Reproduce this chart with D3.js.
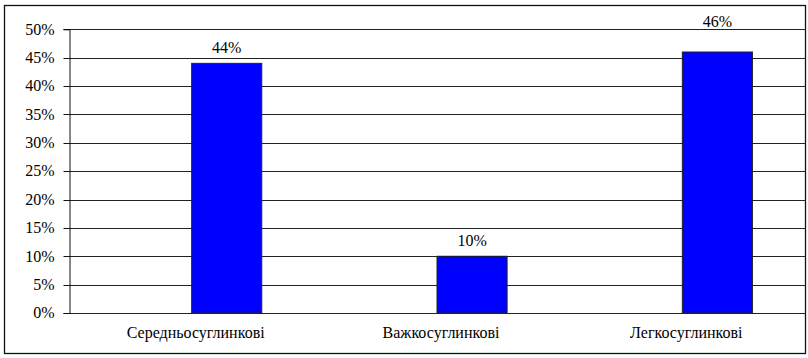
<!DOCTYPE html>
<html>
<head>
<meta charset="utf-8">
<script src="https://cdn.jsdelivr.net/npm/d3@7"></script>
<style>
  html, body { margin: 0; padding: 0; background: #fff; }
  svg { display: block; }
</style>
</head>
<body>
<svg id="chart" width="808" height="358"></svg>
<script>
const categories = ["Середньосуглинкові", "Важкосуглинкові", "Легкосуглинкові"];
const seriesNames = ["empty", "share"];
const emptySeries = [0, 0, 0];
const shareSeries = [0.44, 0.10, 0.46];
const valueLabels = ["44%", "10%", "46%"];
const yTicks = [0, 0.05, 0.10, 0.15, 0.20, 0.25, 0.30, 0.35, 0.40, 0.45, 0.50];
const yTickLabels = ["0%", "5%", "10%", "15%", "20%", "25%", "30%", "35%", "40%", "45%", "50%"];

const FONT = "Liberation Serif";
const svg = d3.select("#chart");
const plot = { left: 69, right: 805, top: 29.3, bottom: 313 };
const fs = 16;

// outer border
svg.append("rect")
  .attr("x", 4.5).attr("y", 5.5)
  .attr("width", 801).attr("height", 348)
  .attr("fill", "#fff").attr("stroke", "#111").attr("stroke-width", 1.3);

const x = d3.scaleBand().domain(categories).range([plot.left, plot.right]).padding(0);
const xSub = d3.scaleBand().domain(seriesNames).range([0, x.bandwidth()]).paddingInner(0).paddingOuter(0.75);
const y = d3.scaleLinear().domain([0, 0.5]).range([plot.bottom, plot.top]);

// gridlines
svg.append("g")
  .selectAll("line").data(yTicks).join("line")
  .attr("x1", plot.left).attr("x2", plot.right)
  .attr("y1", d => Math.round(y(d)) + 0.5).attr("y2", d => Math.round(y(d)) + 0.5)
  .attr("stroke", "#222").attr("stroke-width", 1);

// y axis
const yAxis = d3.axisLeft(y).tickValues(yTicks).tickSize(6).tickFormat(() => "");
const ga = svg.append("g").attr("transform", `translate(${plot.left + 0.5},0)`).call(yAxis);
ga.select(".domain").attr("stroke", "#111");
ga.selectAll(".tick line").attr("stroke", "#111");
ga.selectAll(".tick").attr("transform", d => `translate(0,${Math.round(y(d)) + 0.5})`);

// y tick labels
svg.append("g").selectAll("text").data(yTicks).join("text")
  .attr("x", 54.5)
  .attr("y", d => y(d))
  .attr("text-anchor", "end")
  .attr("dy", "0.33em")
  .attr("font-family", FONT)
  .attr("font-size", fs)
  .attr("fill", "#000")
  .text((d, i) => yTickLabels[i]);

// bars (second series holds values; first series is empty)
const rows = categories.map((c, i) => ({ c, i, empty: emptySeries[i], share: shareSeries[i] }));
const g = svg.append("g");
g.selectAll("rect.share").data(rows).join("rect")
  .attr("class", "share")
  .attr("x", d => x(d.c) + xSub("share"))
  .attr("y", d => y(d.share))
  .attr("width", xSub.bandwidth())
  .attr("height", d => y(0) - y(d.share))
  .attr("fill", "#0000ff")
  .attr("stroke", "#222").attr("stroke-width", 1);

// value labels
g.selectAll("text.val").data(rows).join("text")
  .attr("class", "val")
  .attr("x", d => x(d.c) + xSub("share") + xSub.bandwidth() / 2)
  .attr("y", d => d.i === 2 ? y(0.5) - 2.5 : y(d.share) - 10.5)
  .attr("text-anchor", "middle")
  .attr("font-family", FONT)
  .attr("font-size", fs)
  .attr("fill", "#000")
  .text(d => valueLabels[d.i]);

// category labels
svg.append("g").selectAll("text").data(categories).join("text")
  .attr("x", d => x(d) + x.bandwidth() / 2 + 4)
  .attr("y", 338)
  .attr("text-anchor", "middle")
  .attr("font-family", FONT)
  .attr("font-size", fs)
  .attr("fill", "#000")
  .text(d => d);
</script>
</body>
</html>
